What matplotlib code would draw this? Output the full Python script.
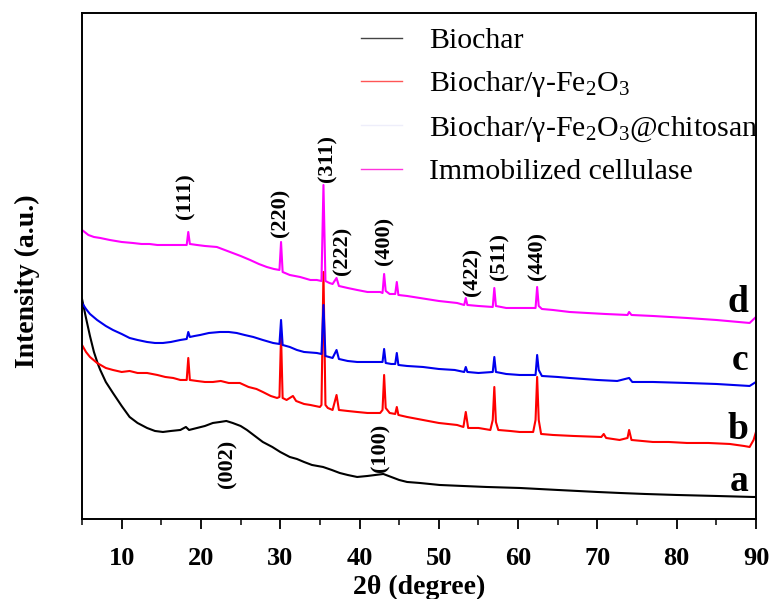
import matplotlib
matplotlib.use("Agg")
import matplotlib.pyplot as plt
from matplotlib.lines import Line2D
from matplotlib.ticker import MultipleLocator

plt.rcParams['font.family'] = ['Liberation Serif', 'DejaVu Serif']
plt.rcParams['mathtext.fontset'] = 'custom'
plt.rcParams['mathtext.rm'] = 'Liberation Serif'
plt.rcParams['mathtext.it'] = 'Liberation Serif:italic'
plt.rcParams['mathtext.bf'] = 'Liberation Serif:bold'

# (a) Biochar
x_a = [5.0, 5.5, 6.0, 6.5, 7.0, 7.3, 8.0, 8.9, 10.0, 11.0, 12.0, 13.2, 14.2, 15.2,
       16.2, 17.4, 18.1, 18.5, 19.5, 20.5, 21.5, 22.4, 23.2, 24.0, 25.0, 25.8, 26.8,
       27.8, 29.0, 30.0, 31.2, 32.1, 33.0, 34.0, 35.4, 36.5, 37.5, 38.5, 39.7, 41.0,
       42.0, 43.0, 44.0, 45.0, 46.0, 47.6, 50.1, 53.0, 56.0, 60.2, 65.0, 70.0, 72.8,
       76.0, 80.0, 85.0, 89.6, 90.0]
y_a = [220, 201, 183, 167, 155, 149, 137, 126, 113, 102, 96, 91, 88, 87,
       88, 89, 92, 89, 91, 93, 96, 97, 98, 96, 93, 89, 83,
       77, 72, 67, 62, 60, 57, 54, 52, 49, 46, 44, 42, 43,
       44, 45, 42, 39, 37, 36, 34, 33, 32, 31, 29, 27, 26,
       25, 24, 23, 22, 22]

# (b) Biochar/γ-Fe2O3
x_b = [5.0, 5.5, 6.0, 6.9, 8.0, 8.9, 10.0, 11.0, 12.0, 13.2, 14.5, 15.5, 16.5, 17.4,
       18.2, 18.4, 18.6, 19.5, 20.5, 21.5, 22.5, 23.5, 24.9, 26.0, 27.0, 27.8, 28.8,
       29.6, 29.9, 30.1, 30.3, 30.8, 31.6, 32.0, 33.0, 33.8, 35.0, 35.2, 35.45, 35.7,
       36.0, 36.6, 37.1, 37.4, 38.5, 39.7, 41.0, 42.6, 42.9, 43.1, 43.3, 43.8, 44.5,
       44.7, 44.9, 46.0, 48.0, 50.0, 52.3, 53.1, 53.4, 53.7, 55.0, 56.5, 56.8, 57.0,
       57.2, 57.5, 59.0, 60.2, 61.9, 62.2, 62.4, 62.6, 62.9, 64.4, 67.0, 70.5, 70.8,
       71.1, 72.8, 73.8, 74.0, 74.3, 77.0, 79.0, 81.3, 84.0, 86.7, 88.5, 89.2, 89.7, 90.0]
y_b = [174, 167, 162, 156, 151, 149, 147, 148, 146, 146, 144, 142, 141, 139,
       139, 161, 139, 138, 137, 137, 138, 136, 136, 132, 130, 127, 123,
       121, 122, 184, 121, 119, 123, 118, 115, 114, 112, 114, 247, 114,
       111, 109, 124, 109, 108, 107, 106, 106, 109, 144, 111, 106, 105,
       112, 104, 102, 99, 96, 94, 92, 107, 91, 91, 89, 99, 132,
       97, 89, 88, 87, 87, 99, 142, 99, 85, 84, 83, 82, 85,
       81, 79, 81, 89, 79, 77, 77, 76, 76, 75, 73, 72, 79, 87]

# (c) Biochar/γ-Fe2O3@chitosan
x_c = [5.0, 5.5, 6.0, 6.9, 8.0, 8.9, 10.0, 11.0, 12.0, 13.2, 14.2, 15.2, 16.2, 17.4,
       18.2, 18.4, 18.6, 19.2, 19.9, 21.0, 22.4, 23.5, 24.5, 25.5, 26.6, 27.8, 29.1,
       29.9, 30.1, 30.3, 31.2, 32.1, 33.0, 34.6, 35.2, 35.45, 35.7, 36.6, 37.1, 37.4,
       38.5, 39.7, 41.5, 42.9, 43.1, 43.3, 44.0, 44.5, 44.7, 44.9, 46.0, 48.0, 50.0,
       52.0, 53.2, 53.4, 53.6, 55.0, 56.8, 57.0, 57.2, 58.5, 60.2, 62.2, 62.4, 62.6,
       63.0, 65.0, 66.5, 70.0, 72.5, 74.0, 74.4, 77.0, 81.3, 85.0, 89.2, 90.0]
y_c = [216, 210, 205, 199, 193, 189, 185, 181, 179, 177, 176, 176, 177, 179,
       180, 187, 182, 183, 184, 186, 187, 187, 186, 184, 182, 179, 176,
       175, 199, 174, 172, 169, 167, 166, 165, 214, 163, 161, 169, 160,
       158, 157, 157, 157, 170, 156, 155, 155, 166, 154, 153, 152, 150,
       149, 147, 152, 147, 146, 147, 162, 147, 145, 144, 144, 164, 149,
       143, 142, 141, 139, 138, 141, 137, 137, 136, 135, 133, 137]

# (d) Immobilized cellulase
x_d = [5.0, 5.8, 6.5, 7.3, 8.5, 10.0, 11.4, 12.5, 13.5, 14.5, 15.7, 16.8, 18.2, 18.4,
       18.6, 19.5, 20.5, 22.0, 23.0, 24.0, 25.0, 26.2, 27.3, 28.3, 29.2, 29.9, 30.1,
       30.3, 31.2, 32.5, 33.8, 34.6, 35.2, 35.45, 35.7, 36.2, 36.6, 37.1, 37.4, 38.5,
       39.7, 41.0, 42.6, 42.9, 43.1, 43.3, 43.8, 44.5, 44.7, 44.9, 46.0, 47.6, 50.0,
       52.3, 53.2, 53.4, 53.6, 55.0, 56.8, 57.0, 57.2, 58.5, 60.2, 62.2, 62.4, 62.6,
       63.0, 64.4, 66.5, 68.7, 71.0, 73.8, 74.0, 74.3, 77.0, 81.3, 85.0, 89.2, 90.0]
y_d = [289, 284, 282, 281, 279, 277, 276, 275, 275, 274, 274, 274, 274, 287,
       275, 274, 273, 272, 269, 266, 263, 259, 255, 252, 250, 249, 277,
       247, 244, 242, 239, 239, 238, 334, 238, 236, 235, 241, 233, 231,
       229, 227, 227, 226, 245, 228, 225, 225, 237, 224, 223, 221, 218,
       216, 214, 221, 214, 213, 212, 231, 213, 211, 211, 211, 232, 213,
       210, 209, 207, 206, 205, 204, 207, 204, 203, 201, 199, 196, 202]

series = [(x_a, y_a, 'black', 'Biochar'),
          (x_b, y_b, '#ff0000', 'Biochar/γ-Fe$_2$O$_3$'),
          (x_c, y_c, '#0000ee', 'Biochar/γ-Fe$_2$O$_3$@chitosan'),
          (x_d, y_d, '#ff00ff', 'Immobilized cellulase')]
legend_colors = ['#444444', '#ff5555', '#eeeefa', '#ff33dd']

# peak labels: text, 2theta, intensity
hkl_labels = ['(111)', '(220)', '(311)', '(222)', '(400)', '(422)', '(511)', '(440)', '(002)', '(100)']
hkl_x = [18.1, 30.0, 36.0, 37.9, 43.1, 54.2, 57.7, 62.5, 23.3, 42.6]
hkl_y = [323, 306, 360, 268, 278, 247, 262, 263, 55, 71]

curve_letters = ['a', 'b', 'c', 'd']
letter_y = [37, 89, 158, 216]

fig = plt.figure(figsize=(7.71, 5.99), dpi=100)
ax = fig.add_axes([0.1064, 0.1336, 0.8741, 0.8447])

for xs, ys, c, lab in series:
    ax.plot(xs, ys, color=c, lw=1.5)

for t, xx, yy in zip(hkl_labels, hkl_x, hkl_y):
    ax.text(xx, yy, t, rotation=90, ha='center', va='center',
            fontsize=16, fontweight='bold')

for t, yy in zip(curve_letters, letter_y):
    ax.text(89.0, yy, t, ha='right', va='center', fontsize=27, fontweight='bold')

handles = [Line2D([], [], color=lc, lw=1.0) for lc in legend_colors]
ax.legend(handles, [s[3] for s in series], loc='upper right', frameon=False,
          fontsize=21.5, handlelength=1.4, handletextpad=0.9, labelspacing=0.5,
          borderaxespad=0.0, bbox_to_anchor=(1.021, 0.995))

ax.set_xlim(5, 90)
ax.set_ylim(0, 506)
ax.xaxis.set_major_locator(MultipleLocator(10))
ax.xaxis.set_minor_locator(MultipleLocator(5))
ax.tick_params(axis='x', which='major', direction='out', length=7, width=1.3,
               labelsize=19, pad=13)
ax.tick_params(axis='x', which='minor', direction='out', length=4, width=1.1)
ax.set_yticks([])
for lbl in ax.get_xticklabels():
    lbl.set_fontweight('bold')
for sp in ax.spines.values():
    sp.set_linewidth(1.4)

ax.set_xlabel('2θ (degree)', fontsize=20, fontweight='bold')
ax.xaxis.set_label_coords(0.5, -0.11)
ax.set_ylabel('Intensity (a.u.)', fontsize=20, fontweight='bold')
ax.yaxis.set_label_coords(-0.063, 0.47)

fig.savefig('out.png', dpi=100)
